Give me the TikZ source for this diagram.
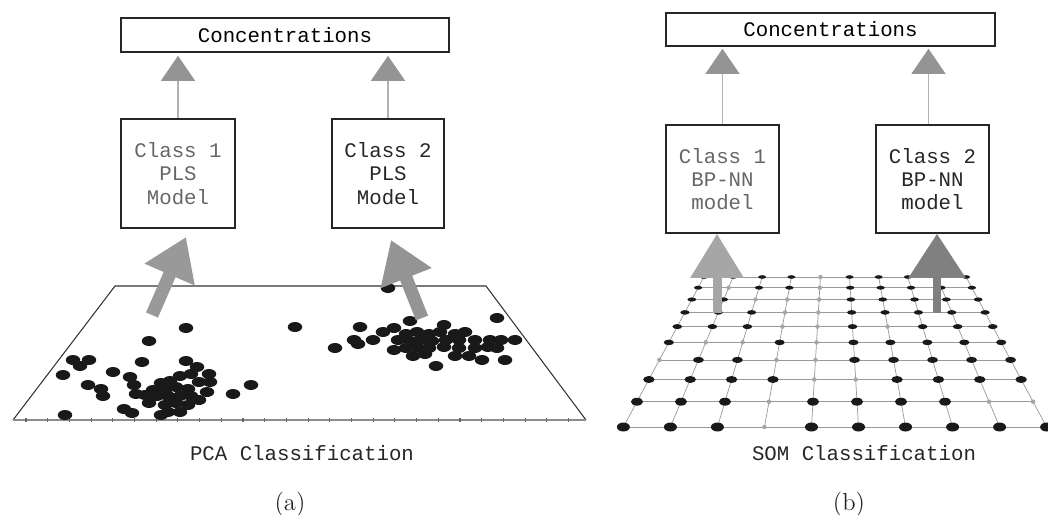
\documentclass[tikz,border=0pt]{standalone}
\usepackage{xcolor}
\usepackage{fontspec}
\setmonofont{Liberation Mono}
\usepackage{tikz}
\usetikzlibrary{arrows.meta}
\usetikzlibrary{calc}
\usetikzlibrary{positioning}
\newcommand{\monotext}{\ttfamily\fontsize{11.8}{13.2}\selectfont}
\tikzstyle{box} = [draw=black!85, line width=0.9pt, rectangle, inner sep=0pt, align=center, font=\monotext]
\tikzstyle{classone} = [text=black!60]
\tikzstyle{classtwo} = [text=black!85]
\tikzstyle{thinarrow} = [draw=black!30, line width=0.6pt, -{Triangle[width=0.68cm, length=0.5cm, color=black!42]}]
\tikzstyle{bigarrow} = [line width=0.26cm, -{Triangle[width=1.04cm, length=0.82cm]}]
\tikzstyle{gridline} = [draw=black!40, line width=0.4pt]
\tikzstyle{caption} = [font=\monotext, text=black!85]
\tikzstyle{sublabel} = [font=\fontsize{14}{16}\selectfont, text=black!85]
\tikzstyle{sample} = [black!90]

\begin{document}
\begin{tikzpicture}[x=0.02cm, y=-0.02cm]
\useasboundingbox (0,0) rectangle (1048,514);

\node [box, minimum width=6.56cm, minimum height=0.68cm] (concA) at (285,35) {Concentrations};
\node [box, classone, minimum width=2.28cm, minimum height=2.18cm] (plsA) at (178,173.5) {Class 1\\PLS\\Model};
\node [box, classtwo, minimum width=2.24cm, minimum height=2.18cm] (plsB) at (388,173.5) {Class 2\\PLS\\Model};
\draw [thinarrow, shorten >=0.06cm] (plsA.north) -- (plsA.north |- concA.south);
\draw [thinarrow, shorten >=0.06cm] (plsB.north) -- (plsB.north |- concA.south);

\coordinate (planeNW) at (115,286);
\coordinate (planeNE) at (486,286);
\coordinate (planeSE) at (586,420);
\coordinate (planeSW) at (13,420);
\draw [black!80, line width=0.6pt] (planeSW) -- (planeNW) -- (planeNE) -- (planeSE);
\draw [black!45, line width=1.3pt] (planeSW) -- (planeSE);
\foreach \t in {0,...,25}
  \draw [black!60, line width=0.6pt] ($(planeSW)+(13+\t*21.7,-2)$) -- ++(0,4);
\foreach \x/\y in {186/328,149/341,295/327,73/360,89/360,80/366,142/362,186/361,197/367,63/375,
  113/372,130/377,209/374,210/382,88/385,101/389,251/385,233/394,103/396,134/385,136/394,
  161/383,170/381,180/376,191/374,199/382,153/390,165/390,176/387,188/389,145/395,157/396,
  168/396,180/396,191/396,207/392,199/400,149/403,165/405,176/403,188/405,168/412,161/415,
  180/412,124/409,132/413,65/415}
  \fill [sample] (\x,\y) ellipse [x radius=0.145cm, y radius=0.1cm];
\foreach \x/\y in {388/288,497/318,410/321,360/327,444/325,354/340,358/344,373/340,335/348,
  383/332,394/328,406/334,417/332,429/334,440/332,455/334,465/332,398/340,410/341,421/340,
  432/341,446/340,459/340,475/340,490/340,501/340,394/350,406/348,417/347,429/348,444/347,
  459/348,475/348,488/347,497/348,413/356,425/354,455/356,469/356,482/360,436/366,505/360,
  515/340}
  \fill [sample] (\x,\y) ellipse [x radius=0.145cm, y radius=0.1cm];

\coordinate (pcaFoot1) at (152,315);
\coordinate (pcaTip1) at (186,237);
\coordinate (pcaFoot2) at (422,318);
\coordinate (pcaTip2) at (391,240);
\draw [bigarrow, black!40] (pcaFoot1) -- (pcaTip1);
\draw [bigarrow, black!42] (pcaFoot2) -- (pcaTip2);

\node [caption] (pcaLabel) at (302,453) {PCA Classification};
\node [sublabel] (subA) at (290,504) {(a)};

\node [box, minimum width=6.58cm, minimum height=0.66cm] (concB) at (830.5,29.5) {Concentrations};
\node [box, classone, minimum width=2.26cm, minimum height=2.16cm] (bpA) at (722.5,179) {Class 1\\BP-NN\\model};
\node [box, classtwo, minimum width=2.26cm, minimum height=2.16cm] (bpB) at (932.5,179) {Class 2\\BP-NN\\model};
\draw [thinarrow, shorten >=0.04cm] (bpA.north) -- (bpA.north |- concB.south);
\draw [thinarrow, shorten >=0.04cm] ($(bpB.north)+(-4,0)$) -- ($(bpB.north |- concB.south)+(-4,0)$);

\foreach \i/\yy in {0/277,1/287.7,2/299.5,3/312.4,4/326.6,5/342.4,6/359.9,7/379.5,8/401.7,9/427}
  \foreach \j in {0,...,9}{
    \pgfmathsetmacro\xx{835+1.074*(\yy-32.9)*(\j-4.5)/9}
    \coordinate (g-\i-\j) at (\xx,\yy);
  }
\foreach \k in {0,...,9}{
  \draw [gridline] (g-\k-0) -- (g-\k-9);
  \draw [gridline] (g-0-\k) -- (g-9-\k);
}
\foreach \i in {0,...,9}
  \foreach \j in {0,...,9}
    \fill [black!35] (g-\i-\j) circle (0.045cm);
\foreach \i/\yy/\cols in {0/277/{0,1,2,3,5,6,7,9},1/287.7/{0,2,3,5,6,7,8,9},
  2/299.5/{0,1,5,6,7,8,9},3/312.4/{0,1,2,5,6,7,8,9},4/326.6/{0,1,2,5,7,8,9},
  5/342.4/{0,3,5,6,7,8,9},6/359.9/{1,2,5,6,7,8,9},7/379.5/{0,1,2,3,6,7,8,9},
  8/401.7/{0,1,2,4,5,6,7},9/427/{0,1,2,4,5,6,7,8,9}}{
  \pgfmathsetmacro\s{(\yy-32.9)/394}
  \foreach \j in \cols
    \fill [sample] (g-\i-\j) ellipse [x radius={0.13cm*\s}, y radius={0.09cm*\s*\s}];
}

\coordinate (somFoot1) at (717,313);
\coordinate (somFoot2) at (937,313);
\draw [line width=0.18cm, black!35, -{Triangle[width=1.02cm, length=0.88cm]}] (somFoot1) -- (somFoot1 |- bpA.south);
\draw [line width=0.16cm, black!50, -{Triangle[width=1.1cm, length=0.88cm]}] (somFoot2) -- (somFoot2 |- bpB.south);

\node [caption] (somLabel) at (864,453) {SOM Classification};
\node [sublabel] (subB) at (849,504) {(b)};
\end{tikzpicture}
\end{document}
